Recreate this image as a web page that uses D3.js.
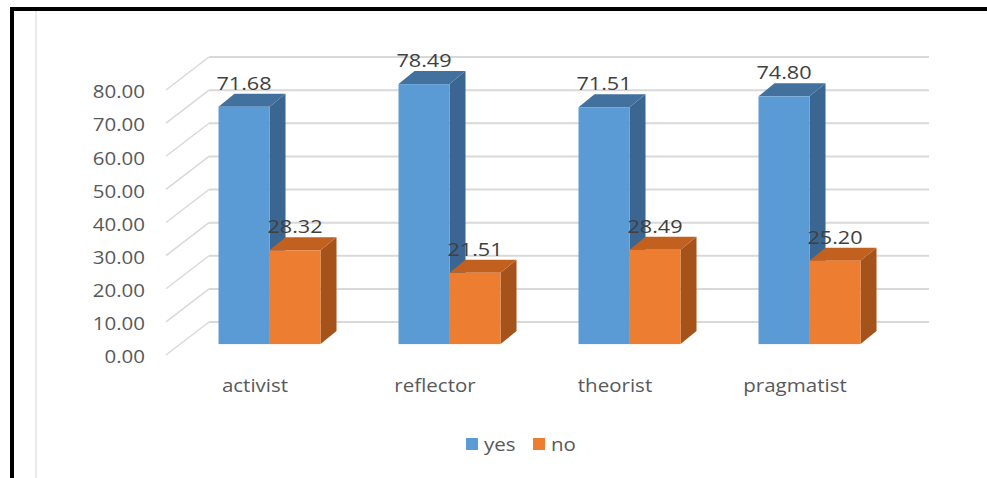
<!DOCTYPE html>
<html>
<head>
<meta charset="utf-8">
<script src="https://cdn.jsdelivr.net/npm/d3@7"></script>
<style>
  body { margin: 0; background: #fff; }
  text { font-family: "Open Sans", "Liberation Sans", sans-serif; }
</style>
</head>
<body>
<div class="chart"></div>
<script>
// learning style chart - yes / no by style
var categories = ['activist', 'reflector', 'theorist', 'pragmatist'];
var seriesNames = ['yes', 'no'];
var yesValues = [71.68, 78.49, 71.51, 74.80];
var noValues = [28.32, 21.51, 28.49, 25.20];
var yTicks = [0, 10, 20, 30, 40, 50, 60, 70, 80];

(function() {
  var opts = {
    width: 987,
    height: 478,
    depthX: 44,   // full depth of the 3d box
    depthY: 33,
    barZ: 0.33,   // where bar front sits inside the depth
    barDX: 16,    // bar thickness
    barDY: 13,
    stretch: 1.14 // the screenshot text is a bit wide
  };

  var colors = {
    yes: { front: '#5b9bd5', top: '#41719c', side: '#3a6691' },
    no:  { front: '#ed7d31', top: '#c2601f', side: '#a5531b' }
  };

  // put text at x,y but stretched sideways
  var place = function(fx, fy) {
    return function(d, i) {
      return 'translate(' + fx(d, i) + ',' + fy(d, i) + ') scale(' + opts.stretch + ',1)';
    };
  };

  var svg = d3.select('.chart')
    .append('svg')
    .attr('width', opts.width)
    .attr('height', opts.height);

  // frame of the screenshot
  svg.append('line')
    .attr('x1', 36).attr('x2', 36).attr('y1', 11).attr('y2', opts.height)
    .style('stroke', '#e4e4e4').style('stroke-width', 1.5);
  svg.append('rect')
    .attr('x', 10).attr('y', 7).attr('width', opts.width).attr('height', 4)
    .style('fill', '#000');
  svg.append('rect')
    .attr('x', 10).attr('y', 7).attr('width', 4).attr('height', opts.height)
    .style('fill', '#000');

  var x = d3.scaleBand().domain(categories).range([165, 885]);
  var inner = d3.scaleBand().domain(seriesNames).range([0, 102]);
  var y = d3.scaleLinear().domain([0, 80]).range([355, 90]);

  var grid = svg.append('g');
  // back wall lines
  grid.selectAll('.hline').data(yTicks)
    .enter().append('line')
    .attr('class', 'hline')
    .attr('x1', 165 + opts.depthX).attr('x2', 929)
    .attr('y1', function(d) { return y(d) - opts.depthY; })
    .attr('y2', function(d) { return y(d) - opts.depthY; })
    .style('stroke', '#d9d9d9').style('stroke-width', 2);
  // side wall lines
  grid.selectAll('.dline').data(yTicks)
    .enter().append('line')
    .attr('class', 'dline')
    .attr('x1', 166).attr('x2', 165 + opts.depthX)
    .attr('y1', function(d) { return y(d); })
    .attr('y2', function(d) { return y(d) - opts.depthY; })
    .style('stroke', '#d9d9d9').style('stroke-width', 1.5);

  svg.append('g').selectAll('text').data(yTicks)
    .enter().append('text')
    .attr('transform', place(function() { return 145; }, function(d) { return y(d) + 2; }))
    .attr('dy', '0.35em')
    .attr('text-anchor', 'end')
    .style('font-size', '18px')
    .style('fill', '#595959')
    .text(function(d) { return d3.format('.2f')(d); });

  var bars = [];
  categories.forEach(function(c, i) {
    bars.push({ cat: c, s: 'yes', v: yesValues[i] });
    bars.push({ cat: c, s: 'no', v: noValues[i] });
  });

  var zx = opts.barZ * opts.depthX, zy = opts.barZ * opts.depthY;
  var bw = inner.bandwidth();
  var left = function(d) { return x(d.cat) + (x.bandwidth() - 102) / 2 + inner(d.s) + zx; };
  var top = function(d) { return y(d.v) - zy; };
  var base = y(0) - zy;

  var bar = svg.append('g').selectAll('g').data(bars)
    .enter().append('g');

  bar.append('polygon')
    .attr('points', function(d) {
      var l = left(d), t = top(d);
      return [[l + bw, t], [l + bw + opts.barDX, t - opts.barDY],
              [l + bw + opts.barDX, base - opts.barDY], [l + bw, base]].join(' ');
    })
    .style('fill', function(d) { return colors[d.s].side; });
  bar.append('polygon')
    .attr('points', function(d) {
      var l = left(d), t = top(d);
      return [[l, t], [l + bw, t], [l + bw + opts.barDX, t - opts.barDY],
              [l + opts.barDX, t - opts.barDY]].join(' ');
    })
    .style('fill', function(d) { return colors[d.s].top; });
  bar.append('rect')
    .attr('x', left)
    .attr('y', top)
    .attr('width', bw)
    .attr('height', function(d) { return base - top(d); })
    .style('fill', function(d) { return colors[d.s].front; });

  svg.append('g').selectAll('text').data(bars)
    .enter().append('text')
    .attr('transform', place(function(d) { return left(d) + bw / 2; },
                             function(d) { return top(d) - opts.barDY - 4; }))
    .attr('text-anchor', 'middle')
    .style('font-size', '19px')
    .style('fill', '#404040')
    .text(function(d) { return d3.format('.2f')(d.v); });

  svg.append('g').selectAll('text').data(categories)
    .enter().append('text')
    .attr('transform', place(function(d) { return x(d) + x.bandwidth() / 2; },
                             function() { return 392; }))
    .attr('text-anchor', 'middle')
    .style('font-size', '18px')
    .style('fill', '#595959')
    .text(function(d) { return d; });

  // legend
  var legend = svg.append('g').selectAll('g').data(seriesNames)
    .enter().append('g')
    .attr('transform', function(d, i) { return 'translate(' + (466 + i * 67) + ',438)'; });
  legend.append('rect')
    .attr('width', 12).attr('height', 12)
    .style('fill', function(d) { return colors[d].front; });
  legend.append('text')
    .attr('transform', 'translate(18,13) scale(' + opts.stretch + ',1)')
    .style('font-size', '18px')
    .style('fill', '#595959')
    .text(function(d) { return d; });
}).call(this);
</script>
</body>
</html>
